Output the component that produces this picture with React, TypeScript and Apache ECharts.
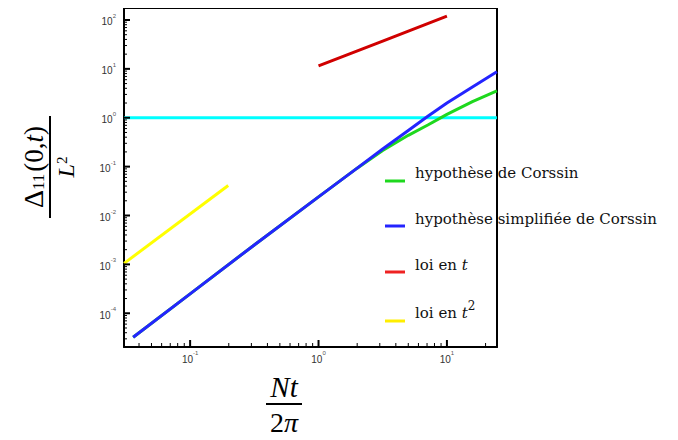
import React, { useEffect, useRef } from "react";
import * as echarts from "echarts";

// Tick labels (powers of ten)
const xExponents = [-1, 0, 1];
const yExponents = [-4, -3, -2, -1, 0, 1, 2];

// Axis extents (log10 units)
const xMinLog = -1.515;
const xMaxLog = 1.39;
const yMinLog = -4.69;
const yMaxLog = 2.245;

const curveX = [0.036, 0.1, 0.316, 1, 2, 3.16, 5, 7.1, 10, 15.8, 24.5];
const corrsinY = [3.24e-5, 2.5e-4, 2.5e-3, 0.024, 0.093, 0.214, 0.437, 0.71, 1.17, 2.14, 3.55];
const simplifiedY = [3.24e-5, 2.5e-4, 2.5e-3, 0.024, 0.093, 0.229, 0.55, 1.07, 2.0, 4.27, 8.7];
const loiTX = [1, 3.16, 10];
const loiTY = [11.5, 37, 120];
const loiT2X = [0.0306, 0.198];
const loiT2Y = [1.05e-3, 0.041];
const levelX = [0.0306, 24.5];
const levelY = [1, 1];

const names = [
  "hypothèse de Corssin",
  "hypothèse simplifiée de Corssin",
  "loi en t",
  "loi en t²",
];
const legendLabels = [
  "hypothèse de Corssin",
  "hypothèse simplifiée de Corssin",
  "loi en {i|t}",
  "loi en {i|t}{sup|2}",
];
const colors = ["#1ed81e", "#2424ff", "#d00000", "#ffff00"];
const legendColors = ["#1ed81e", "#2424ff", "#ee2222", "#ffee00"];
const legendLineY = [181, 226, 272, 321];
const legendTextY = [173, 219, 265, 313];

const toLog = (xs: number[], ys: number[]) =>
  xs.map((x, i) => [Math.log10(x), Math.log10(ys[i])]);

const minorTicks = (lo: number, hi: number) => {
  const out: number[] = [];
  for (let d = Math.floor(lo) - 1; d <= Math.ceil(hi); d++) {
    for (let k = 2; k <= 9; k++) {
      const v = d + Math.log10(k);
      if (v > lo && v < hi) out.push(v);
    }
  }
  return out;
};

const labelRich = {
  b: { fontSize: 10, fontFamily: "Liberation Sans", color: "#333", lineHeight: 14, verticalAlign: "bottom" },
  s: { fontSize: 6, fontFamily: "Liberation Sans", color: "#555", verticalAlign: "top" },
};
const fmt = (v: number) => `{b|10}{s|${Math.round(v)}}`;

export default function App() {
  const ref = useRef<HTMLDivElement>(null);
  useEffect(() => {
    const chart = echarts.init(ref.current!, null, { renderer: "svg" });
    const axisLine = { show: true, onZero: false, lineStyle: { color: "#000", width: 2 } };
    const option: any = {
      animation: false,
      grid: { left: 124, top: 8, right: 181, bottom: 93 },
      xAxis: [
        {
          type: "value",
          min: xMinLog,
          max: xMaxLog,
          position: "bottom",
          splitLine: { show: false },
          axisLine,
          axisTick: { show: false },
          axisLabel: { customValues: xExponents, formatter: fmt, rich: labelRich, margin: 3 },
        },
        {
          type: "value",
          min: xMinLog,
          max: xMaxLog,
          position: "top",
          splitLine: { show: false },
          axisLine,
          axisTick: { show: false },
          axisLabel: { show: false },
        },
      ],
      yAxis: [
        {
          type: "value",
          min: yMinLog,
          max: yMaxLog,
          position: "left",
          splitLine: { show: false },
          axisLine,
          axisTick: { show: false },
          axisLabel: { customValues: yExponents, formatter: fmt, rich: labelRich, margin: 8 },
        },
        {
          type: "value",
          min: yMinLog,
          max: yMaxLog,
          position: "right",
          splitLine: { show: false },
          axisLine,
          axisTick: { show: false },
          axisLabel: { show: false },
        },
      ],
      series: [
        {
          name: "level",
          type: "line",
          data: toLog(levelX, levelY),
          showSymbol: false,
          lineStyle: { color: "#00ffff", width: 3 },
        },
        {
          name: names[0],
          type: "line",
          data: toLog(curveX, corrsinY),
          showSymbol: false,
          lineStyle: { color: colors[0], width: 3 },
        },
        {
          name: names[1],
          type: "line",
          data: toLog(curveX, simplifiedY),
          showSymbol: false,
          lineStyle: { color: colors[1], width: 3 },
        },
        {
          name: names[2],
          type: "line",
          data: toLog(loiTX, loiTY),
          showSymbol: false,
          lineStyle: { color: colors[2], width: 3 },
        },
        {
          name: names[3],
          type: "line",
          data: toLog(loiT2X, loiT2Y),
          showSymbol: false,
          lineStyle: { color: colors[3], width: 3 },
        },
      ],
    };
    chart.setOption(option);

    // Tick marks, placed with the chart's own axis scales
    const ticks: any[] = [];
    const addX = (v: number, len: number, w: number) => {
      const p = chart.convertToPixel({ gridIndex: 0 }, [v, yMinLog]) as number[];
      ticks.push({
        type: "line",
        z: 50,
        silent: true,
        shape: { x1: p[0], y1: p[1], x2: p[0], y2: p[1] - len },
        style: { stroke: "#000", lineWidth: w },
      });
    };
    const addY = (v: number, len: number, w: number) => {
      const p = chart.convertToPixel({ gridIndex: 0 }, [xMinLog, v]) as number[];
      ticks.push({
        type: "line",
        z: 50,
        silent: true,
        shape: { x1: p[0], y1: p[1], x2: p[0] + len, y2: p[1] },
        style: { stroke: "#000", lineWidth: w },
      });
    };
    xExponents.forEach((v) => addX(v, 7, 2));
    minorTicks(xMinLog, xMaxLog).forEach((v) => addX(v, 4, 1));
    yExponents.forEach((v) => addY(v, 6, 2));
    minorTicks(yMinLog, yMaxLog).forEach((v) => addY(v, 3, 1));

    const graphic: any[] = [
      ...ticks,
      ...legendLabels.flatMap((t, i) => [
        {
          type: "line",
          shape: { x1: 385, y1: legendLineY[i], x2: 405, y2: legendLineY[i] },
          style: { stroke: legendColors[i], lineWidth: 3 },
        },
        {
          type: "text",
          x: 415,
          y: legendTextY[i],
          style: {
            text: t,
            verticalAlign: "middle",
            fontFamily: "DejaVu Serif",
            fontSize: 15,
            fill: "#111",
            rich: {
              i: { fontFamily: "DejaVu Serif", fontStyle: "italic", fontSize: 15, color: "#111" },
              sup: { fontFamily: "DejaVu Serif", fontSize: 12, color: "#111", verticalAlign: "top", lineHeight: 27 },
            },
          },
        },
      ]),
      {
        type: "group",
        x: 50,
        y: 167,
        rotation: Math.PI / 2,
        children: [
          { type: "line", shape: { x1: -51, y1: 0, x2: 51, y2: 0 }, style: { stroke: "#000", lineWidth: 2 } },
          {
            type: "text",
            x: 0,
            y: -3,
            style: {
              text: "{d|Δ}{sub|11}{p|(0,}{i|t}{p|)}",
              align: "center",
              verticalAlign: "bottom",
              rich: {
                d: { fontFamily: "Liberation Serif", fontSize: 28, color: "#000", verticalAlign: "bottom" },
                sub: { fontFamily: "Liberation Serif", fontSize: 17, color: "#000", verticalAlign: "bottom", padding: [0, 2, 0, 0] },
                p: { fontFamily: "Liberation Serif", fontSize: 27, color: "#000", verticalAlign: "bottom" },
                i: { fontFamily: "Liberation Serif", fontStyle: "italic", fontSize: 27, color: "#000", verticalAlign: "bottom" },
              },
            },
          },
          {
            type: "text",
            x: 0,
            y: 4,
            style: {
              text: "{i|L}{s|2}",
              align: "center",
              verticalAlign: "top",
              rich: {
                i: { fontFamily: "Liberation Serif", fontStyle: "italic", fontSize: 24, color: "#000", verticalAlign: "bottom" },
                s: { fontFamily: "Liberation Serif", fontSize: 15, color: "#000", verticalAlign: "top" },
              },
            },
          },
        ],
      },
      {
        type: "group",
        x: 284,
        y: 404,
        children: [
          { type: "line", shape: { x1: -18, y1: 0, x2: 18, y2: 0 }, style: { stroke: "#000", lineWidth: 2 } },
          {
            type: "text",
            x: 0,
            y: -3,
            style: {
              text: "Nt",
              align: "center",
              verticalAlign: "bottom",
              fontFamily: "Liberation Serif",
              fontStyle: "italic",
              fontSize: 29,
              fill: "#000",
            },
          },
          {
            type: "text",
            x: 0,
            y: 3,
            style: {
              text: "{n|2}{i|π}",
              align: "center",
              verticalAlign: "top",
              rich: {
                n: { fontFamily: "Liberation Serif", fontSize: 28, color: "#000", lineHeight: 30 },
                i: { fontFamily: "Liberation Serif", fontStyle: "italic", fontSize: 28, color: "#000", lineHeight: 30 },
              },
            },
          },
        ],
      },
    ];
    chart.setOption({ graphic });
    return () => chart.dispose();
  }, []);
  return <div ref={ref} style={{ width: 678, height: 440, margin: -8, background: "#fff" }} />;
}
